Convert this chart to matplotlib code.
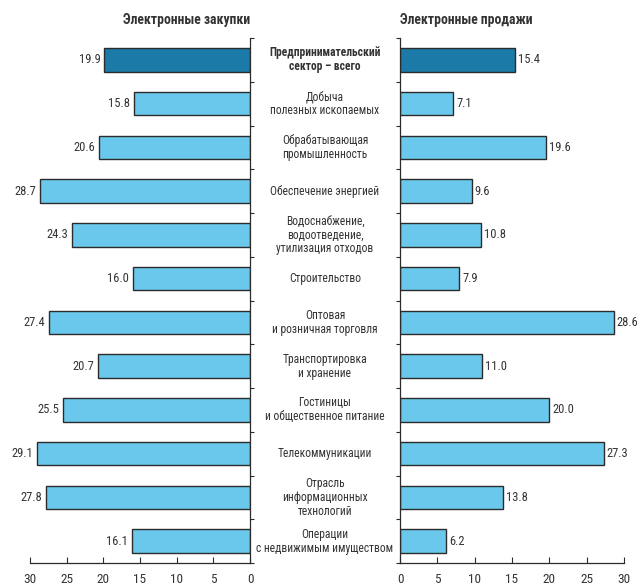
import matplotlib.pyplot as plt
import matplotlib.transforms as mtransforms
from matplotlib import font_manager

names = {f.name for f in font_manager.fontManager.ttflist}
fam = [n for n in ['Roboto Condensed', 'Open Sans Condensed', 'Liberation Sans Narrow',
                   'Liberation Sans'] if n in names][:1] + ['DejaVu Sans']
plt.rcParams['font.family'] = fam

categories = ['Предпринимательский\nсектор – всего', 'Добыча\nполезных ископаемых',
              'Обрабатывающая\nпромышленность', 'Обеспечение энергией',
              'Водоснабжение,\nводоотведение,\nутилизация отходов', 'Строительство',
              'Оптовая\nи розничная торговля', 'Транспортировка\nи хранение',
              'Гостиницы\nи общественное питание', 'Телекоммуникации',
              'Отрасль\nинформационных\nтехнологий', 'Операции\nс недвижимым имуществом']
purchases = [19.9, 15.8, 20.6, 28.7, 24.3, 16.0, 27.4, 20.7, 25.5, 29.1, 27.8, 16.1]
sales = [15.4, 7.1, 19.6, 9.6, 10.8, 7.9, 28.6, 11.0, 20.0, 27.3, 13.8, 6.2]
ticks = [0, 5, 10, 15, 20, 25, 30]

dark = '#1b7aa8'
light = '#6ac8ec'
edge = '#2b2b2b'
txt = '#333333'
colors = [dark] + [light] * (len(categories) - 1)

fig = plt.figure(figsize=(6.37, 5.88), dpi=100)
top = 1 - 38 / 588
bot = 1 - 563 / 588
axl = fig.add_axes([30 / 637, bot, 220 / 637, top - bot])
axr = fig.add_axes([400 / 637, bot, 224 / 637, top - bot])

y = list(range(len(categories)))
for ax, vals in ((axl, purchases), (axr, sales)):
    ax.barh(y, vals, height=0.54, color=colors, edgecolor=edge, linewidth=1.0)
    ax.set_xlim(0, 30)
    ax.set_ylim(len(categories) - 0.5, -0.5)
    ax.set_xticks(ticks)
    ax.set_yticks([])
    ax.set_yticks([i - 0.5 for i in range(len(categories) + 1)], minor=True)
    ax.tick_params(axis='x', direction='in', colors=edge, labelcolor=txt, labelsize=9.5,
                   length=4, width=0.8, pad=7)
    ax.tick_params(axis='y', which='minor', colors=edge, length=3, width=0.8)
    ax.spines['top'].set_visible(False)
    for s in ax.spines.values():
        s.set_color(edge)
        s.set_linewidth(0.9)

axl.invert_xaxis()
axl.spines['left'].set_visible(False)
axl.yaxis.tick_right()
axr.spines['right'].set_visible(False)

for i, v in enumerate(purchases):
    axl.text(v + 0.5, i, f'{v:.1f}', ha='right', va='center', fontsize=9, color=txt)
for i, v in enumerate(sales):
    axr.text(v + 0.4, i, f'{v:.1f}', ha='left', va='center', fontsize=9, color=txt,
             clip_on=False)

trans = mtransforms.blended_transform_factory(fig.transFigure, axl.transData)
for i, c in enumerate(categories):
    axl.text(325 / 637, i, c, transform=trans, ha='center', va='center', fontsize=8.3,
             color=txt, linespacing=1.1, fontweight='bold' if i == 0 else 'normal',
             clip_on=False)

fig.text(250 / 637, 1 - 20 / 588, 'Электронные закупки', ha='right', va='center',
         fontsize=9.8, fontweight='bold', color=txt)
fig.text(400 / 637, 1 - 20 / 588, 'Электронные продажи', ha='left', va='center',
         fontsize=9.8, fontweight='bold', color=txt)

fig.savefig('out.png', dpi=100)
